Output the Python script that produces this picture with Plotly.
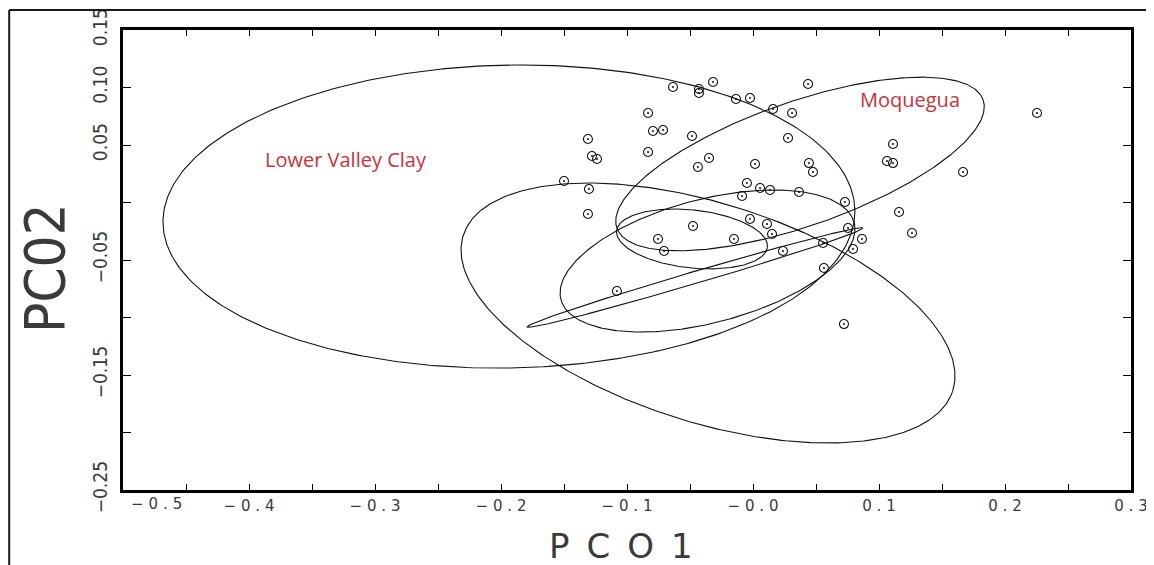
import numpy as np
import plotly.graph_objects as go

# ---------------- data ----------------
pc1 = [-0.0635, -0.0429, -0.0429, -0.0317, -0.0135, -0.0024, 0.0159, 0.0310, 0.0437,
       -0.0833, -0.0794, -0.0714, -0.0484, 0.0278, -0.1310, -0.1278, -0.1238, -0.0833,
       -0.0349, -0.0437, 0.0016, 0.0444, 0.0476, -0.1500, -0.1302, -0.0048, 0.0056,
       0.0135, 0.0365, -0.0087, -0.1310, -0.0476, -0.0754, -0.0706, -0.0151, -0.0024,
       0.0111, 0.0151, 0.0238, -0.1080, 0.2254, 0.1111, 0.1063, 0.1111, 0.1667,
       0.0730, 0.1159, 0.1262, 0.0754, 0.0865, 0.0794, 0.0556, 0.0563, 0.0722]
pc2 = [0.1004, 0.0987, 0.0952, 0.1048, 0.0900, 0.0909, 0.0813, 0.0778, 0.1030,
       0.0778, 0.0622, 0.0630, 0.0578, 0.0561, 0.0552, 0.0404, 0.0378, 0.0439,
       0.0387, 0.0309, 0.0335, 0.0343, 0.0265, 0.0187, 0.0117, 0.0170, 0.0126,
       0.0109, 0.0091, 0.0057, -0.0100, -0.0204, -0.0317, -0.0422, -0.0317, -0.0143,
       -0.0187, -0.0274, -0.0422, -0.0770, 0.0778, 0.0509, 0.0361, 0.0343, 0.0265,
       0.0004, -0.0083, -0.0265, -0.0222, -0.0317, -0.0404, -0.0352, -0.0570, -0.1057]

# confidence ellipses: centre, semi-axes (in PCO1 units), orientation (deg)
ell_names = ["Lower Valley Clay", "Moquegua", "group C", "group D", "group E", "group F"]
ell_cx = [-0.1937, 0.0373, -0.0357, -0.0361, -0.0484, -0.0460]
ell_cy = [-0.0122, 0.0335, -0.0961, -0.0509, -0.0317, -0.0652]
ell_a = [0.2746, 0.1540, 0.2038, 0.1203, 0.0602, 0.1389]
ell_b = [0.1202, 0.0492, 0.0868, 0.0490, 0.0230, 0.0048]
ell_deg = [1.1, 19.3, -17.6, 14.7, -6.2, 16.4]

group_labels = ["Lower Valley Clay", "Moquegua"]
label_x = [-0.323, 0.1246]
label_y = [0.037, 0.090]

x_tickvals = [-0.5, -0.45, -0.4, -0.35, -0.3, -0.25, -0.2, -0.15, -0.1, -0.05,
              0.0, 0.05, 0.1, 0.15, 0.2, 0.25, 0.3]
x_ticktext = ["", "", "−0.4", "", "−0.3", "", "−0.2", "", "−0.1", "",
              "−0.0", "", "0.1", "", "0.2", "", "0.3"]
y_tickvals = [-0.25, -0.2, -0.15, -0.1, -0.05, 0.0, 0.05, 0.1, 0.15]
y_ticktext = ["−0.25", "", "−0.15", "", "−0.05", "", "0.05", "0.10", "0.15"]

# ---------------- layout constants ----------------
# the page body adds an 8 px margin, so the figure is 8 px smaller each way
W, H = 1146, 557
ML, MR, MT, MB = 115, 23, 22, 75
XR = [-0.5, 0.3]
YR = [-0.25, 0.15]
PW, PH = W - ML - MR, H - MT - MB
px_x = PW / (XR[1] - XR[0])
px_y = PH / (YR[1] - YR[0])
ratio = px_x / px_y


def spaced(s):
    return "\u2004".join(list(s))


fig = go.Figure()

t = np.linspace(0, 2 * np.pi, 400)
for name, cx, cy, a, b, d in zip(ell_names, ell_cx, ell_cy, ell_a, ell_b, ell_deg):
    ph = np.deg2rad(d)
    dx = a * np.cos(t) * np.cos(ph) - b * np.sin(t) * np.sin(ph)
    dy = a * np.cos(t) * np.sin(ph) + b * np.sin(t) * np.cos(ph)
    fig.add_trace(go.Scatter(x=cx + dx, y=cy + dy * ratio, mode="lines", name=name,
                             line=dict(color="#111111", width=1.1), hoverinfo="skip",
                             showlegend=False))

fig.add_trace(go.Scatter(x=pc1, y=pc2, mode="markers", name="samples", showlegend=False,
                         marker=dict(symbol="circle-open-dot", size=9, color="#111111",
                                     line=dict(width=1.1, color="#111111"))))

for txt, lx, ly in zip(group_labels, label_x, label_y):
    fig.add_annotation(x=lx, y=ly, text=txt, showarrow=False, xanchor="center", yanchor="middle",
                       font=dict(family="Open Sans, Lato, sans-serif", size=20, color="#c8323c"))

tick_font = dict(family="DejaVu Sans, sans-serif", size=15, color="#3a3a3a")

fig.update_xaxes(range=XR, showgrid=False, zeroline=False, showline=True, linewidth=2.5,
                 linecolor="black", mirror="ticks", ticks="inside", ticklen=6, tickwidth=1.3,
                 tickcolor="black", tickvals=x_tickvals, automargin=False,
                 ticktext=[spaced(s) for s in x_ticktext], tickfont=tick_font)
fig.update_yaxes(range=YR, showgrid=False, zeroline=False, showline=True, linewidth=2.5,
                 linecolor="black", mirror="ticks", ticks="inside", ticklen=8, tickwidth=1.3,
                 tickcolor="black", tickvals=y_tickvals, ticktext=y_ticktext,
                 tickangle=-90, ticklabelstandoff=6, automargin=False,
                 tickfont=dict(family="Liberation Sans Narrow, DejaVu Sans Condensed, sans-serif",
                               size=19, color="#3a3a3a"))

# lone first x label, drawn slightly right of its tick as in the original
fig.add_annotation(x=XR[0], y=0, xref="x", yref="paper", xanchor="center", yanchor="top",
                   text=spaced("−0.5"), showarrow=False, xshift=33, yshift=-3, font=tick_font)

# axis titles
fig.add_annotation(x=(621 - 123) / PW, y=(490 - 546) / PH,
                   xref="paper", yref="paper", xanchor="center", yanchor="middle",
                   text="P\u2002C\u2002O\u20021", showarrow=False,
                   font=dict(family="DejaVu Sans, sans-serif", size=34, color="#3a3a3a"))
fig.add_annotation(x=(44 - 123) / PW, y=(490 - 268) / PH,
                   xref="paper", yref="paper", xanchor="center", yanchor="middle",
                   text="PC02", textangle=-90, showarrow=False,
                   font=dict(family="Liberation Sans Narrow, DejaVu Sans Condensed, sans-serif",
                             size=56, color="#3a3a3a"))

# outer frame of the picture (left and top edges visible)
fx0 = (1.2 - ML) / PW
fy1 = (490 - 10) / PH
fig.add_shape(type="line", xref="paper", yref="paper", x0=fx0, x1=fx0, y0=-0.3, y1=fy1,
              line=dict(color="#1a1a1a", width=2))
fig.add_shape(type="line", xref="paper", yref="paper", x0=fx0, x1=1.1, y0=fy1, y1=fy1,
              line=dict(color="#1a1a1a", width=2))

fig.update_layout(width=W, height=H, margin=dict(l=ML, r=MR, t=MT, b=MB, autoexpand=False),
                  plot_bgcolor="white", paper_bgcolor="white", showlegend=False)

fig.write_html("out.html")
